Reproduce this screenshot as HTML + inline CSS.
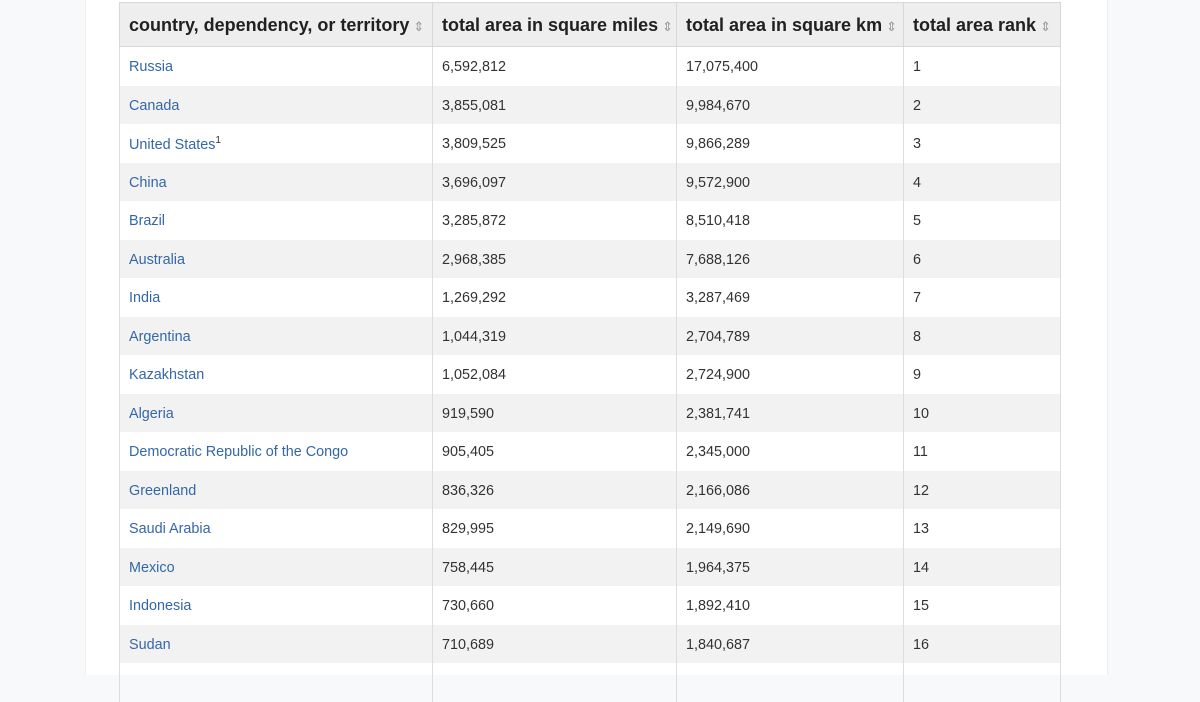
<!DOCTYPE html>
<html><head><meta charset="utf-8"><style>
html,body{margin:0;padding:0;width:1200px;height:675px;overflow:hidden;background:#f8f9fa;font-family:"Liberation Sans",sans-serif}
.page{position:absolute;left:85px;top:0;width:1021px;height:675px;background:#fff;border-left:1px solid #eee;border-right:1px solid #eee}
table{position:absolute;left:119px;top:2px;border-collapse:collapse;table-layout:fixed;width:941px}
th{background:#eeeeee;height:41px;padding:2px 0 0 9px;text-align:left;font-size:18px;font-weight:bold;color:#202122;border:1px solid #d8d8d8;white-space:nowrap}
td{height:36.5px;padding:2px 0 0 9px;font-size:14.4px;color:#333;border-left:1px solid #ddd;border-right:1px solid #ddd}
tr.s td{background:#f2f2f2}
a{color:#3467a8;text-decoration:none}
.sort{color:#999;font-size:13px;font-weight:normal;margin-left:4px}
sup{font-size:10px}
</style></head><body>
<div class="page"></div>
<table>
<colgroup><col style="width:313px"><col style="width:244px"><col style="width:227px"><col style="width:157px"></colgroup>
<thead><tr>
<th>country, dependency, or territory<span class="sort">⇕</span></th>
<th>total area in square miles<span class="sort">⇕</span></th>
<th>total area in square km<span class="sort">⇕</span></th>
<th>total area rank<span class="sort">⇕</span></th>
</tr></thead>
<tbody id="tb"></tbody>
</table>
<script>
const countries=["Russia","Canada","United States","China","Brazil","Australia","India","Argentina","Kazakhstan","Algeria","Democratic Republic of the Congo","Greenland","Saudi Arabia","Mexico","Indonesia","Sudan",""];
const miles=["6,592,812","3,855,081","3,809,525","3,696,097","3,285,872","2,968,385","1,269,292","1,044,319","1,052,084","919,590","905,405","836,326","829,995","758,445","730,660","710,689",""];
const km=["17,075,400","9,984,670","9,866,289","9,572,900","8,510,418","7,688,126","3,287,469","2,704,789","2,724,900","2,381,741","2,345,000","2,166,086","2,149,690","1,964,375","1,892,410","1,840,687",""];
const ranks=["1","2","3","4","5","6","7","8","9","10","11","12","13","14","15","16",""];
const tb=document.getElementById('tb');
countries.forEach((c,i)=>{
  const tr=document.createElement('tr');
  
  
  if(i%2===1)tr.className='s';
  const sup=c==="United States"?'<sup>1</sup>':'';
  tr.innerHTML='<td><a>'+c+'</a>'+sup+'</td><td>'+miles[i]+'</td><td>'+km[i]+'</td><td>'+ranks[i]+'</td>';
  const a=tr.querySelector('a');
  
  
  tb.appendChild(tr);
});
</script>
</body></html>
